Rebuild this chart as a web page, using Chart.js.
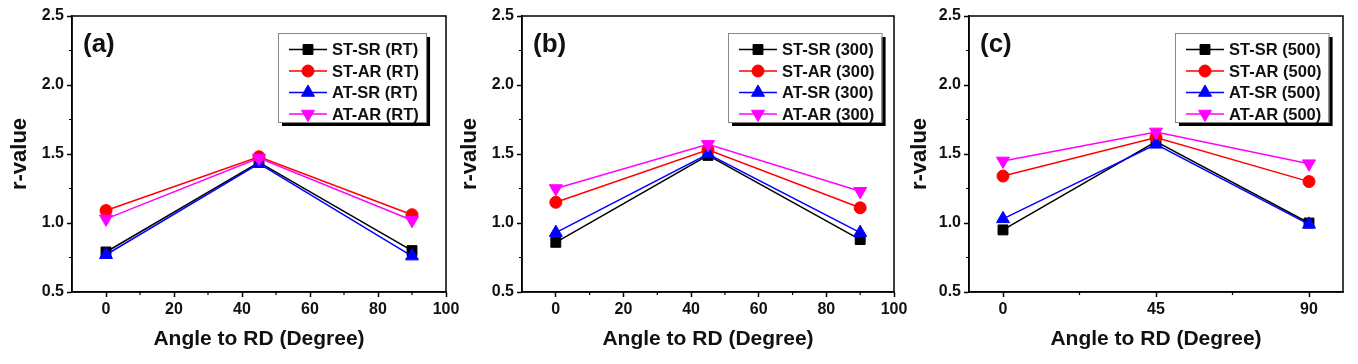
<!DOCTYPE html>
<html>
<head>
<meta charset="utf-8">
<script src="https://cdn.jsdelivr.net/npm/chart.js@4.4.1/dist/chart.umd.min.js"></script>
<style>
    html, body { margin: 0; padding: 0; background: #fff; overflow: hidden; }
    #wrap { position: relative; width: 1358px; height: 364px; }
    #wrap canvas { position: absolute; top: 0; }
</style>
</head>
<body>
<div id="wrap">
    <canvas id="chartA" width="470" height="364" style="left:0px"></canvas>
    <canvas id="chartB" width="470" height="364" style="left:450px"></canvas>
    <canvas id="chartC" width="458" height="364" style="left:900px"></canvas>
</div>
<script>
// angles to rolling direction
const angles = [0, 45, 90];
const seriesNames = ['ST-SR', 'ST-AR', 'AT-SR', 'AT-AR'];

// r-values at room temperature (a)
const stsrRT = [0.79, 1.44, 0.80];
const starRT = [1.09, 1.48, 1.06];
const atsrRT = [0.77, 1.43, 0.76];
const atarRT = [1.03, 1.47, 1.02];

// r-values at 300 (b)
const stsr300 = [0.86, 1.49, 0.88];
const star300 = [1.15, 1.53, 1.11];
const atsr300 = [0.93, 1.50, 0.93];
const atar300 = [1.25, 1.57, 1.23];

// r-values at 500 (c)
const stsr500 = [0.95, 1.59, 1.00];
const star500 = [1.34, 1.62, 1.30];
const atsr500 = [1.03, 1.57, 0.99];
const atar500 = [1.45, 1.66, 1.43];

// tick labels
const yTicks = [0.5, 1.0, 1.5, 2.0, 2.5];
const yMinorTicks = [0.75, 1.25, 1.75, 2.25];
const xTicksAB = [0, 20, 40, 60, 80, 100];
const xMinorAB = [10, 30, 50, 70, 90];
const xTicksC = [0, 45, 90];
const xMinorC = [22.5, 67.5];

const FONT = "'Liberation Sans', Arial, sans-serif";
const colors = ['#000000', '#ff0000', '#0000ff', '#ff00ff'];
const pointStyles = ['rect', 'circle', 'triangle', 'triangle'];
const rotations = [0, 0, 0, 180];
const radii = [7, 6, 7.5, 7.5];

// frame, minor ticks, panel tag and boxed legend
const panelDecor = {
    id: 'panelDecor',
    afterDraw(chart, args, opts) {
        const { ctx, chartArea: a, scales: { x, y } } = chart;
        ctx.save();
        ctx.strokeStyle = '#000';
        ctx.lineWidth = 1.5;
        ctx.strokeRect(a.left, a.top, a.right - a.left, a.bottom - a.top);

        ctx.lineWidth = 1.2;
        ctx.beginPath();
        opts.xMinor.forEach(v => {
            const px = x.getPixelForValue(v);
            ctx.moveTo(px, a.bottom);
            ctx.lineTo(px, a.bottom + 3);
        });
        yMinorTicks.forEach(v => {
            const py = y.getPixelForValue(v);
            ctx.moveTo(a.left, py);
            ctx.lineTo(a.left - 3, py);
        });
        ctx.stroke();

        // (a) / (b) / (c)
        ctx.fillStyle = '#111';
        ctx.font = 'bold 26px ' + FONT;
        ctx.textBaseline = 'middle';
        ctx.textAlign = 'left';
        ctx.fillText(opts.tag, a.left + 11, a.top + 29);

        // legend
        ctx.font = 'bold 16.5px ' + FONT;
        const labels = chart.data.datasets.map(d => d.label);
        const textW = Math.max(...labels.map(t => ctx.measureText(t).width));
        const bx = a.left + 206;
        const by = a.top + 17;
        const bw = 11 + 38 + 5 + textW + 7;
        const bh = 89;
        ctx.fillStyle = '#000';
        ctx.fillRect(bx + 4, by + 4, bw, bh);
        ctx.fillStyle = '#fff';
        ctx.fillRect(bx, by, bw, bh);
        ctx.strokeStyle = '#888';
        ctx.lineWidth = 1;
        ctx.strokeRect(bx + 0.5, by + 0.5, bw, bh);

        chart.data.datasets.forEach((d, i) => {
            const ry = by + 16.5 + i * 21.5;
            const lx = bx + 11;
            ctx.strokeStyle = d.borderColor;
            ctx.lineWidth = 1.5;
            ctx.beginPath();
            ctx.moveTo(lx, ry);
            ctx.lineTo(lx + 38, ry);
            ctx.stroke();
            ctx.fillStyle = d.borderColor;
            ctx.lineWidth = 1;
            Chart.helpers.drawPoint(ctx, {
                pointStyle: d.pointStyle,
                rotation: d.pointRotation,
                radius: d.pointRadius,
                borderWidth: 1
            }, lx + 19, ry);
            ctx.fillStyle = '#111';
            ctx.fillText(d.label, lx + 43, ry + 1);
        });
        ctx.restore();
    }
};

function makePanel(canvasId, tag, condition, series, xTicks, xMinor, yWidth, padRight) {
    const datasets = series.map((vals, i) => ({
        label: seriesNames[i] + ' (' + condition + ')',
        data: angles.map((a, j) => ({ x: a, y: vals[j] })),
        borderColor: colors[i],
        backgroundColor: colors[i],
        borderWidth: 1.5,
        pointStyle: pointStyles[i],
        pointRotation: rotations[i],
        pointRadius: radii[i],
        pointBorderWidth: 1,
        pointBackgroundColor: colors[i],
        pointBorderColor: colors[i],
        order: series.length - i
    }));

    new Chart(document.getElementById(canvasId).getContext('2d'), {
        type: 'line',
        data: { datasets: datasets },
        options: {
            responsive: false,
            animation: false,
            layout: { padding: { top: 16, right: padRight, bottom: 0, left: 0 } },
            plugins: {
                legend: { display: false },
                tooltip: { enabled: false },
                panelDecor: { tag: tag, xMinor: xMinor }
            },
            scales: {
                x: {
                    type: 'linear',
                    min: -10,
                    max: 100,
                    afterBuildTicks: scale => { scale.ticks = xTicks.map(v => ({ value: v })); },
                    afterFit: scale => {
                        scale.height = 72;
                        scale.paddingLeft = 0;
                        scale.paddingRight = 0;
                    },
                    grid: { drawOnChartArea: false, tickLength: 5, tickWidth: 1.5, tickColor: '#000' },
                    border: { display: true, color: '#000', width: 1.5 },
                    ticks: {
                        color: '#111',
                        padding: 3,
                        maxRotation: 0,
                        font: { family: FONT, size: 16, weight: 'bold' },
                        callback: v => String(v)
                    },
                    title: {
                        display: true,
                        text: 'Angle to RD (Degree)',
                        color: '#111',
                        padding: { top: 0, bottom: 12 },
                        font: { family: FONT, size: 21, weight: 'bold' }
                    }
                },
                y: {
                    type: 'linear',
                    min: 0.5,
                    max: 2.5,
                    afterBuildTicks: scale => { scale.ticks = yTicks.map(v => ({ value: v })); },
                    afterFit: scale => {
                        scale.width = yWidth;
                        scale.paddingTop = 0;
                        scale.paddingBottom = 0;
                    },
                    grid: { drawOnChartArea: false, tickLength: 5, tickWidth: 1.5, tickColor: '#000' },
                    border: { display: true, color: '#000', width: 1.5 },
                    ticks: {
                        color: '#111',
                        padding: 3,
                        font: { family: FONT, size: 16, weight: 'bold' },
                        callback: v => Number(v).toFixed(1)
                    },
                    title: {
                        display: true,
                        text: 'r-value',
                        color: '#111',
                        padding: { top: 7, bottom: 0 },
                        font: { family: FONT, size: 22, weight: 'bold' }
                    }
                }
            }
        },
        plugins: [panelDecor]
    });
}

makePanel('chartA', '(a)', 'RT', [stsrRT, starRT, atsrRT, atarRT], xTicksAB, xMinorAB, 72, 24);
makePanel('chartB', '(b)', '300', [stsr300, star300, atsr300, atar300], xTicksAB, xMinorAB, 72, 26);
makePanel('chartC', '(c)', '500', [stsr500, star500, atsr500, atar500], xTicksC, xMinorC, 69, 15);
</script>
</body>
</html>
